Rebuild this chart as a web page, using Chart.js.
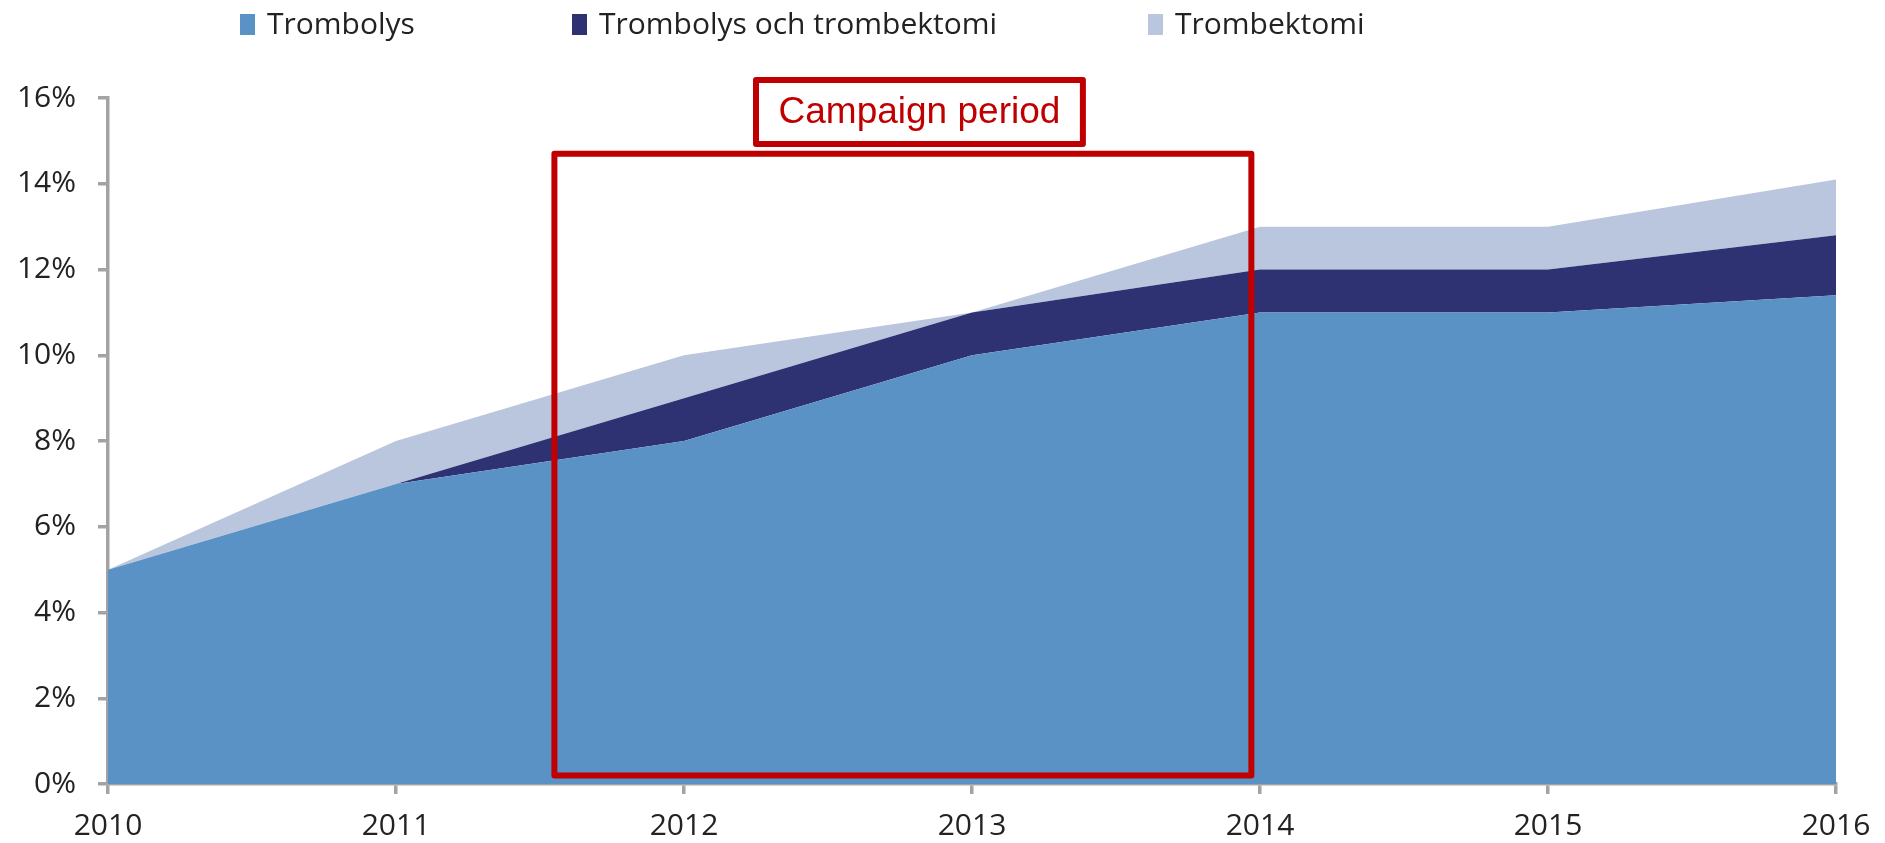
<!DOCTYPE html>
<html>
<head>
<meta charset="utf-8">
<script src="https://cdn.jsdelivr.net/npm/chart.js@4.4.1/dist/chart.umd.min.js"></script>
<style>
  body { margin: 0; background: #fff; }
  #wrap { position: relative; width: 1885px; height: 843px; overflow: hidden; }
  #legend { position: absolute; top: 0; left: 0; font-family: "Open Sans", sans-serif; font-size: 30px; color: #222; }
  .item { position: absolute; top: 2px; white-space: nowrap; display: flex; align-items: center; }
  .box { width: 15px; height: 21px; margin-right: 12px; margin-top: 3px; }
</style>
</head>
<body>
<div id="wrap">
  <canvas id="areaChart" width="1885" height="843"></canvas>
  <div id="legend"></div>
</div>
<script>
// data
const years = ['2010', '2011', '2012', '2013', '2014', '2015', '2016']
const trombolys = [5, 7, 8, 10, 11, 11, 11.4]
const trombolysOchTrombektomi = [0, 0, 1, 1, 1, 1, 1.4]
const trombektomi = [0, 1, 1, 0, 1, 1, 1.3]
const yTicks = [0, 2, 4, 6, 8, 10, 12, 14, 16]

const seriesNames = ['Trombolys', 'Trombolys och trombektomi', 'Trombektomi']
const seriesColors = ['#5b92c5', '#2e3273', '#bac6de']

// campaign box, in category index / percent units
const campaignStart = 1.55
const campaignEnd = 3.97
const campaignTop = 14.7
const campaignBottom = 0.2
const campaignLabel = 'Campaign period'
const labelBoxStart = 2.25
const labelBoxEnd = 3.385
const labelBoxTop = 16.42
const labelBoxBottom = 14.93

/*===== LEGEND =====*/
const legendLeft = [240, 572, 1148]
const legend = document.getElementById('legend')
seriesNames.forEach((name, i) => {
    const item = document.createElement('div')
    item.className = 'item'
    item.style.left = legendLeft[i] + 'px'
    item.innerHTML = '<span class="box" style="background:' + seriesColors[i] + '"></span><span>' + name + '</span>'
    legend.appendChild(item)
})

/*===== CAMPAIGN BOX =====*/
const campaignBox = {
    id: 'campaignBox',
    afterDatasetsDraw(chart) {
        const {ctx, scales: {x, y}} = chart
        ctx.save()
        ctx.strokeStyle = '#c00000'
        ctx.lineWidth = 6
        ctx.lineJoin = 'round'
        const x1 = x.getPixelForValue(campaignStart), x2 = x.getPixelForValue(campaignEnd)
        const y1 = y.getPixelForValue(campaignTop), y2 = y.getPixelForValue(campaignBottom)
        ctx.strokeRect(x1, y1, x2 - x1, y2 - y1)

        const lx1 = x.getPixelForValue(labelBoxStart), lx2 = x.getPixelForValue(labelBoxEnd)
        const ly1 = y.getPixelForValue(labelBoxTop), ly2 = y.getPixelForValue(labelBoxBottom)
        ctx.fillStyle = '#fff'
        ctx.fillRect(lx1, ly1, lx2 - lx1, ly2 - ly1)
        ctx.strokeRect(lx1, ly1, lx2 - lx1, ly2 - ly1)
        ctx.fillStyle = '#c00000'
        ctx.font = '37px "Liberation Sans", Arial, sans-serif'
        ctx.textAlign = 'center'
        ctx.textBaseline = 'middle'
        ctx.fillText(campaignLabel, (lx1 + lx2) / 2, (ly1 + ly2) / 2 + 1)
        ctx.restore()
    }
}

const axisColor = '#a3a3a3'
const ctx = document.getElementById('areaChart').getContext('2d')
const myChart = new Chart(ctx, {
    type: 'line',
    data: {
        labels: years,
        datasets: [trombolys, trombolysOchTrombektomi, trombektomi].map((d, i) => ({
            label: seriesNames[i],
            data: d,
            backgroundColor: seriesColors[i],
            borderWidth: 0,
            pointRadius: 0,
            tension: 0,
            fill: i === 0 ? 'origin' : '-1'
        }))
    },
    options: {
        responsive: false,
        animation: false,
        layout: { padding: { top: 98, right: 49, left: 0, bottom: 0 } },
        plugins: { legend: { display: false }, tooltip: { enabled: false } },
        scales: {
            x: {
                offset: false,
                afterFit: (s) => { s.height = 59 },
                border: { display: true, color: axisColor, width: 3.5 },
                grid: { drawOnChartArea: false, drawTicks: true, tickLength: 10, color: axisColor, lineWidth: 3.5 },
                ticks: { color: '#222', padding: 14, maxRotation: 0, font: { family: 'Open Sans', size: 30 } }
            },
            y: {
                stacked: true,
                min: 0,
                max: 16,
                afterFit: (s) => { s.width = 108 },
                afterBuildTicks: (s) => { s.ticks = yTicks.map(v => ({ value: v })) },
                border: { display: true, color: axisColor, width: 3.5 },
                grid: { drawOnChartArea: false, drawTicks: true, tickLength: 10, color: axisColor, lineWidth: 3.5 },
                ticks: { color: '#222', padding: 22, callback: v => v + '%', font: { family: 'Open Sans', size: 30 } }
            }
        }
    },
    plugins: [campaignBox]
})
</script>
</body>
</html>
